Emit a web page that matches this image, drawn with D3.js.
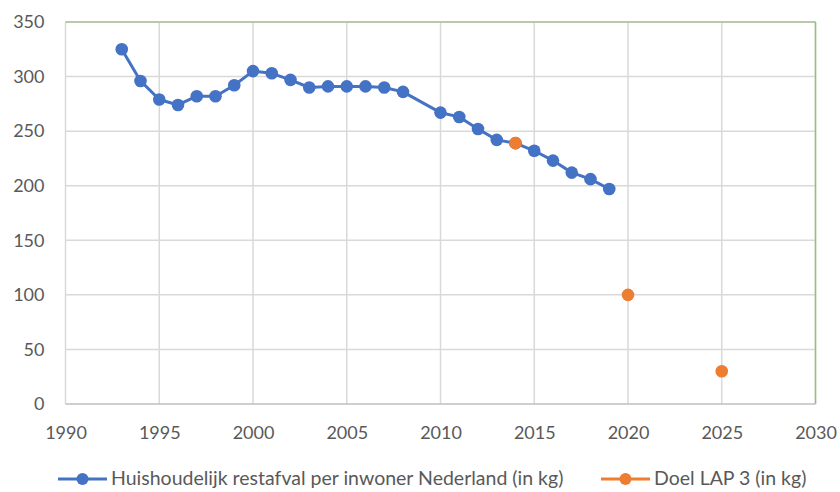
<!DOCTYPE html>
<html>
<head>
<meta charset="utf-8">
<script src="https://cdn.jsdelivr.net/npm/d3@7"></script>
<style>
  html, body { margin: 0; padding: 0; background: #fff; }
  svg { display: block; }
  text { font-family: Lato, "Open Sans", sans-serif; fill: #595959; }
</style>
</head>
<body>
<svg id="chart" width="840" height="492"></svg>
<script>
// Household residual waste per inhabitant, Netherlands (kg)
const years = [1993, 1994, 1995, 1996, 1997, 1998, 1999, 2000, 2001, 2002, 2003, 2004,
               2005, 2006, 2007, 2008, 2010, 2011, 2012, 2013, 2014, 2015, 2016, 2017,
               2018, 2019];
const restafval = [325, 296, 279, 274, 282, 282, 292, 305, 303, 297, 290, 291,
                   291, 291, 290, 286, 267, 263, 252, 242, 239, 232, 223, 212,
                   206, 197];

// LAP 3 targets
const doelYears = [2014, 2020, 2025];
const doelValues = [239, 100, 30];

const xTicks = [1990, 1995, 2000, 2005, 2010, 2015, 2020, 2025, 2030];
const yTicks = [0, 50, 100, 150, 200, 250, 300, 350];

const seriesNames = ["Huishoudelijk restafval per inwoner Nederland (in kg)", "Doel LAP 3 (in kg)"];
const colors = ["#4472C4", "#ED7D31"];

const svg = d3.select("#chart");
const plotLeft = 65.5, plotRight = 815.5, plotTop = 22, plotBottom = 404;

const x = d3.scaleLinear().domain([1990, 2030]).range([plotLeft, plotRight]);
const y = d3.scaleLinear().domain([0, 350]).range([plotBottom, plotTop]);

// Gridlines
const grid = svg.append("g");
grid.selectAll("line.h").data(yTicks.filter(d => d > 0)).join("line")
  .attr("x1", plotLeft).attr("x2", plotRight)
  .attr("y1", d => y(d)).attr("y2", d => y(d))
  .attr("stroke", "#d9d9d9").attr("stroke-width", 1.5);
grid.selectAll("line.v").data(xTicks).join("line")
  .attr("x1", d => x(d)).attr("x2", d => x(d))
  .attr("y1", plotTop).attr("y2", plotBottom)
  .attr("stroke", "#d9d9d9").attr("stroke-width", 1.5);

// Plot frame: top and right edges tinted green, bottom axis grey
svg.append("line").attr("x1", plotLeft).attr("x2", plotRight).attr("y1", plotTop).attr("y2", plotTop)
  .attr("stroke", "#aebf98").attr("stroke-width", 1.5);
svg.append("line").attr("x1", plotRight).attr("x2", plotRight).attr("y1", plotTop).attr("y2", plotBottom)
  .attr("stroke", "#86c873").attr("stroke-width", 1.5);
svg.append("line").attr("x1", plotLeft).attr("x2", plotRight).attr("y1", plotBottom).attr("y2", plotBottom)
  .attr("stroke", "#bfbfbf").attr("stroke-width", 1.5);

// Axes (labels only)
const xAxis = svg.append("g").attr("transform", `translate(0,${plotBottom + 20})`)
  .call(d3.axisBottom(x).tickValues(xTicks).tickFormat(d3.format("d")).tickSize(0));
xAxis.select(".domain").remove();
xAxis.selectAll("text").attr("font-size", 18).attr("dy", "0.35em").attr("y", 9);

const yAxis = svg.append("g").attr("transform", `translate(${plotLeft - 21},0)`)
  .call(d3.axisLeft(y).tickValues(yTicks).tickSize(0));
yAxis.select(".domain").remove();
yAxis.selectAll("text").attr("font-size", 18).attr("x", 0);

// Residual waste series
const pts = years.map((yr, i) => [yr, restafval[i]]);
svg.append("path").datum(pts)
  .attr("fill", "none").attr("stroke", colors[0]).attr("stroke-width", 3)
  .attr("stroke-linejoin", "round")
  .attr("d", d3.line().x(d => x(d[0])).y(d => y(d[1])));
svg.append("g").selectAll("circle").data(pts).join("circle")
  .attr("cx", d => x(d[0])).attr("cy", d => y(d[1])).attr("r", 6.3)
  .attr("fill", colors[0]);

// Target points
const doel = doelYears.map((yr, i) => [yr, doelValues[i]]);
svg.append("g").selectAll("circle").data(doel).join("circle")
  .attr("cx", d => x(d[0])).attr("cy", d => y(d[1])).attr("r", 6.3)
  .attr("fill", colors[1]);

// Legend
const legendY = 479;
const legendItems = [{ x0: 58, name: seriesNames[0], color: colors[0] },
                     { x0: 601, name: seriesNames[1], color: colors[1] }];
const lg = svg.append("g").selectAll("g").data(legendItems).join("g")
  .attr("transform", d => `translate(${d.x0},${legendY})`);
lg.append("line").attr("x1", 0).attr("x2", 49).attr("y1", 0).attr("y2", 0)
  .attr("stroke", d => d.color).attr("stroke-width", 3);
lg.append("circle").attr("cx", 24.5).attr("cy", 0).attr("r", 6).attr("fill", d => d.color);
lg.append("text").attr("x", 53).attr("y", 0).attr("dy", "0.33em")
  .attr("font-size", 19.5).text(d => d.name);
</script>
</body>
</html>
